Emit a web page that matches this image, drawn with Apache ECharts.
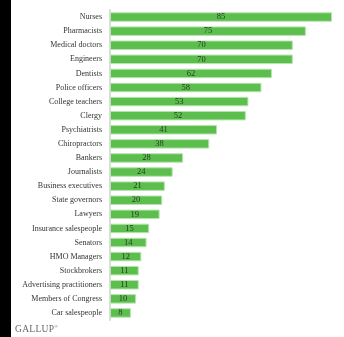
<!DOCTYPE html>
<html><head><meta charset="utf-8">
<script src="https://cdn.jsdelivr.net/npm/echarts@6/dist/echarts.min.js"></script>
<style>html,body{margin:0;padding:0;background:#fff}#c{width:344px;height:337px}
#strip{position:absolute;left:0;top:0;width:11px;height:337px;background:#000}
#gal{position:absolute;left:15px;top:324px;font-family:"Liberation Serif","DejaVu Serif",serif;font-size:9.5px;color:#666;letter-spacing:0.3px}
</style></head>
<body><div id="c"></div><div id="strip"></div><div id="gal">GALLUP<sup style="font-size:5px">®</sup></div>
<script>
const categories = ["Nurses","Pharmacists","Medical doctors","Engineers","Dentists","Police officers","College teachers","Clergy","Psychiatrists","Chiropractors","Bankers","Journalists","Business executives","State governors","Lawyers","Insurance salespeople","Senators","HMO Managers","Stockbrokers","Advertising practitioners","Members of Congress","Car salespeople"];
const values = [85,75,70,70,62,58,53,52,41,38,28,24,21,20,19,15,14,12,11,11,10,8];
const chart = echarts.init(document.getElementById('c'));
chart.setOption({
  animation:false,
  grid:{left:110,right:12,top:10,bottom:17,containLabel:false},
  xAxis:{type:'value',min:0,max:85,show:false},
  yAxis:{type:'category',data:categories,inverse:true,
    axisLine:{show:true,lineStyle:{color:'#dddddd',width:2}},
    axisTick:{show:false},
    axisLabel:{fontFamily:'Liberation Serif',fontSize:8,color:'#333',margin:8}},
  series:[{type:'bar',data:values,barWidth:9.5,
    itemStyle:{color:'#5cbf4d',borderColor:'#b8e4b0',borderWidth:1},
    label:{show:true,position:'inside',fontFamily:'Liberation Serif',fontSize:8.5,color:'#2a3a26'}}]
});
</script></body></html>
